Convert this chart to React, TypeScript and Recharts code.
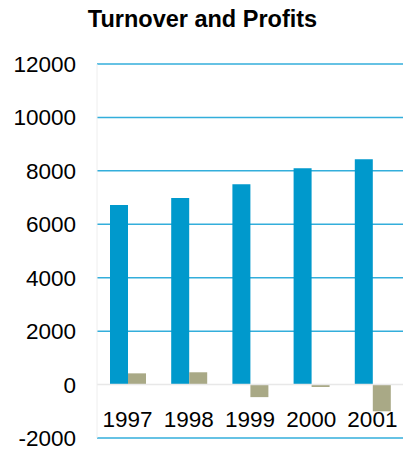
import { BarChart, Bar, XAxis, YAxis, CartesianGrid, ReferenceLine } from 'recharts'

const years = ['1997', '1998', '1999', '2000', '2001']
const turnover = [6720, 6980, 7500, 8100, 8430]
const profits = [420, 460, -470, -90, -1000]
const yTicks = [-2000, 0, 2000, 4000, 6000, 8000, 10000, 12000]
const gridValues = [-2000, 2000, 4000, 6000, 8000, 10000, 12000]

const chartData = years.map((year, i) => ({
  year,
  Turnover: turnover[i],
  Profits: profits[i],
}))

const font = '"Liberation Sans", Arial, sans-serif'

export default function App() {
  return (
    <div style={{ position: 'relative', width: 403, height: 450, background: '#fff', fontFamily: font }}>
      <style>{'body { margin: 0; }'}</style>
      {/* Title */}
      <div
        style={{
          position: 'absolute',
          top: 5,
          left: 0,
          width: 405,
          textAlign: 'center',
          fontSize: 23.5,
          fontWeight: 700,
          lineHeight: '28px',
          color: '#000',
        }}
      >
        Turnover and Profits
      </div>
      <BarChart
        width={403}
        height={450}
        data={chartData}
        margin={{ top: 64, right: 0, bottom: 0, left: 0 }}
        barSize={18}
        barGap={0}
      >
        <CartesianGrid
          vertical={false}
          horizontalValues={gridValues}
          stroke="#33aedb"
          strokeWidth={1.5}
        />
        <XAxis
          dataKey="year"
          height={12}
          axisLine={false}
          tickLine={false}
          tickSize={0}
          tickMargin={0}
          tick={{ fontSize: 22.5, fill: '#000', fontFamily: font, dy: -27 }}
          interval={0}
        />
        <YAxis
          domain={[-2000, 12000]}
          ticks={yTicks}
          interval={0}
          width={97}
          axisLine={{ stroke: '#eeeeee' }}
          tickLine={false}
          tickSize={0}
          tickMargin={21}
          tick={{ fontSize: 22.5, fill: '#000', fontFamily: font }}
        />
        <ReferenceLine y={0} stroke="#e8e8e8" strokeWidth={1.5} />
        <Bar dataKey="Turnover" fill="#0099cc" isAnimationActive={false} />
        <Bar dataKey="Profits" fill="#a9a986" isAnimationActive={false} />
      </BarChart>
    </div>
  )
}
